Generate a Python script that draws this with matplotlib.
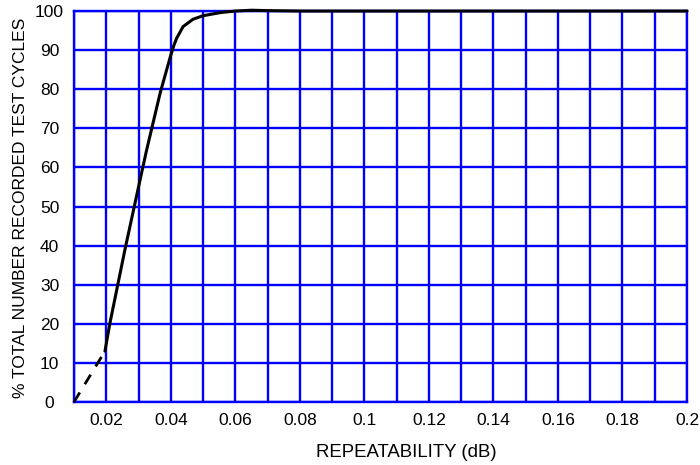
import matplotlib
matplotlib.use("Agg")
import matplotlib.pyplot as plt
import numpy as np

plt.rcParams['font.family'] = ['Liberation Sans', 'DejaVu Sans']

# data
dash_x = [0.01, 0.0196]
dash_y = [0.0, 13.0]
solid_x = [0.0196, 0.0211, 0.0258, 0.030, 0.0325, 0.0367, 0.0387, 0.040, 0.0410,
           0.0418, 0.0438, 0.0469, 0.050, 0.0554, 0.060, 0.065, 0.070, 0.080,
           0.100, 0.150, 0.200]
solid_y = [13.0, 20.0, 39.0, 55.0, 64.4, 79.0, 84.9, 88.7, 91.3,
           93.0, 96.0, 97.9, 98.8, 99.6, 100.0, 100.2, 100.1, 100.0,
           100.0, 100.0, 100.0]
xtick_vals = [0.02, 0.04, 0.06, 0.08, 0.1, 0.12, 0.14, 0.16, 0.18, 0.2]
xtick_labels = ["0.02", "0.04", "0.06", "0.08", "0.1", "0.12", "0.14", "0.16", "0.18", "0.2"]
ytick_vals = list(range(0, 101, 10))

fig = plt.figure(figsize=(7, 4.65), dpi=100)
ax = fig.add_axes([0.1057, 0.1355, 0.8757, 0.8408])

ax.set_xlim(0.01, 0.2)
ax.set_ylim(0, 100)
ax.set_xticks(xtick_vals)
ax.set_xticklabels(xtick_labels)
ax.set_xticks(np.arange(0.01, 0.2001, 0.01), minor=True)
ax.set_yticks(ytick_vals)
ax.tick_params(which='both', length=0, labelsize=12.5)
ax.tick_params(axis='x', pad=8)
ax.tick_params(axis='y', pad=17.6)
for lbl in ax.get_yticklabels():
    lbl.set_horizontalalignment('center')

ax.grid(True, which='both', axis='x', color='#0000FF', linewidth=1.7)
ax.grid(True, which='major', axis='y', color='#0000FF', linewidth=1.7)
for s in ax.spines.values():
    s.set_color('#0000FF')
    s.set_linewidth(1.7)

ax.plot(dash_x, dash_y, color='black', linewidth=2, dashes=(4, 3.5), clip_on=False, zorder=3)
ax.plot(solid_x, solid_y, color='black', linewidth=2.2, clip_on=False, zorder=3,
        solid_capstyle='round', solid_joinstyle='round')

ax.set_xlabel("REPEATABILITY (dB)", fontsize=13.4, va='center', ha='center')
ax.xaxis.set_label_coords(0.5416, -0.128)
ax.set_ylabel("% TOTAL NUMBER RECORDED TEST CYCLES", fontsize=12.5, va='center', ha='center')
ax.yaxis.set_label_coords(-0.088, 0.496)

fig.savefig("out.png", dpi=100)
